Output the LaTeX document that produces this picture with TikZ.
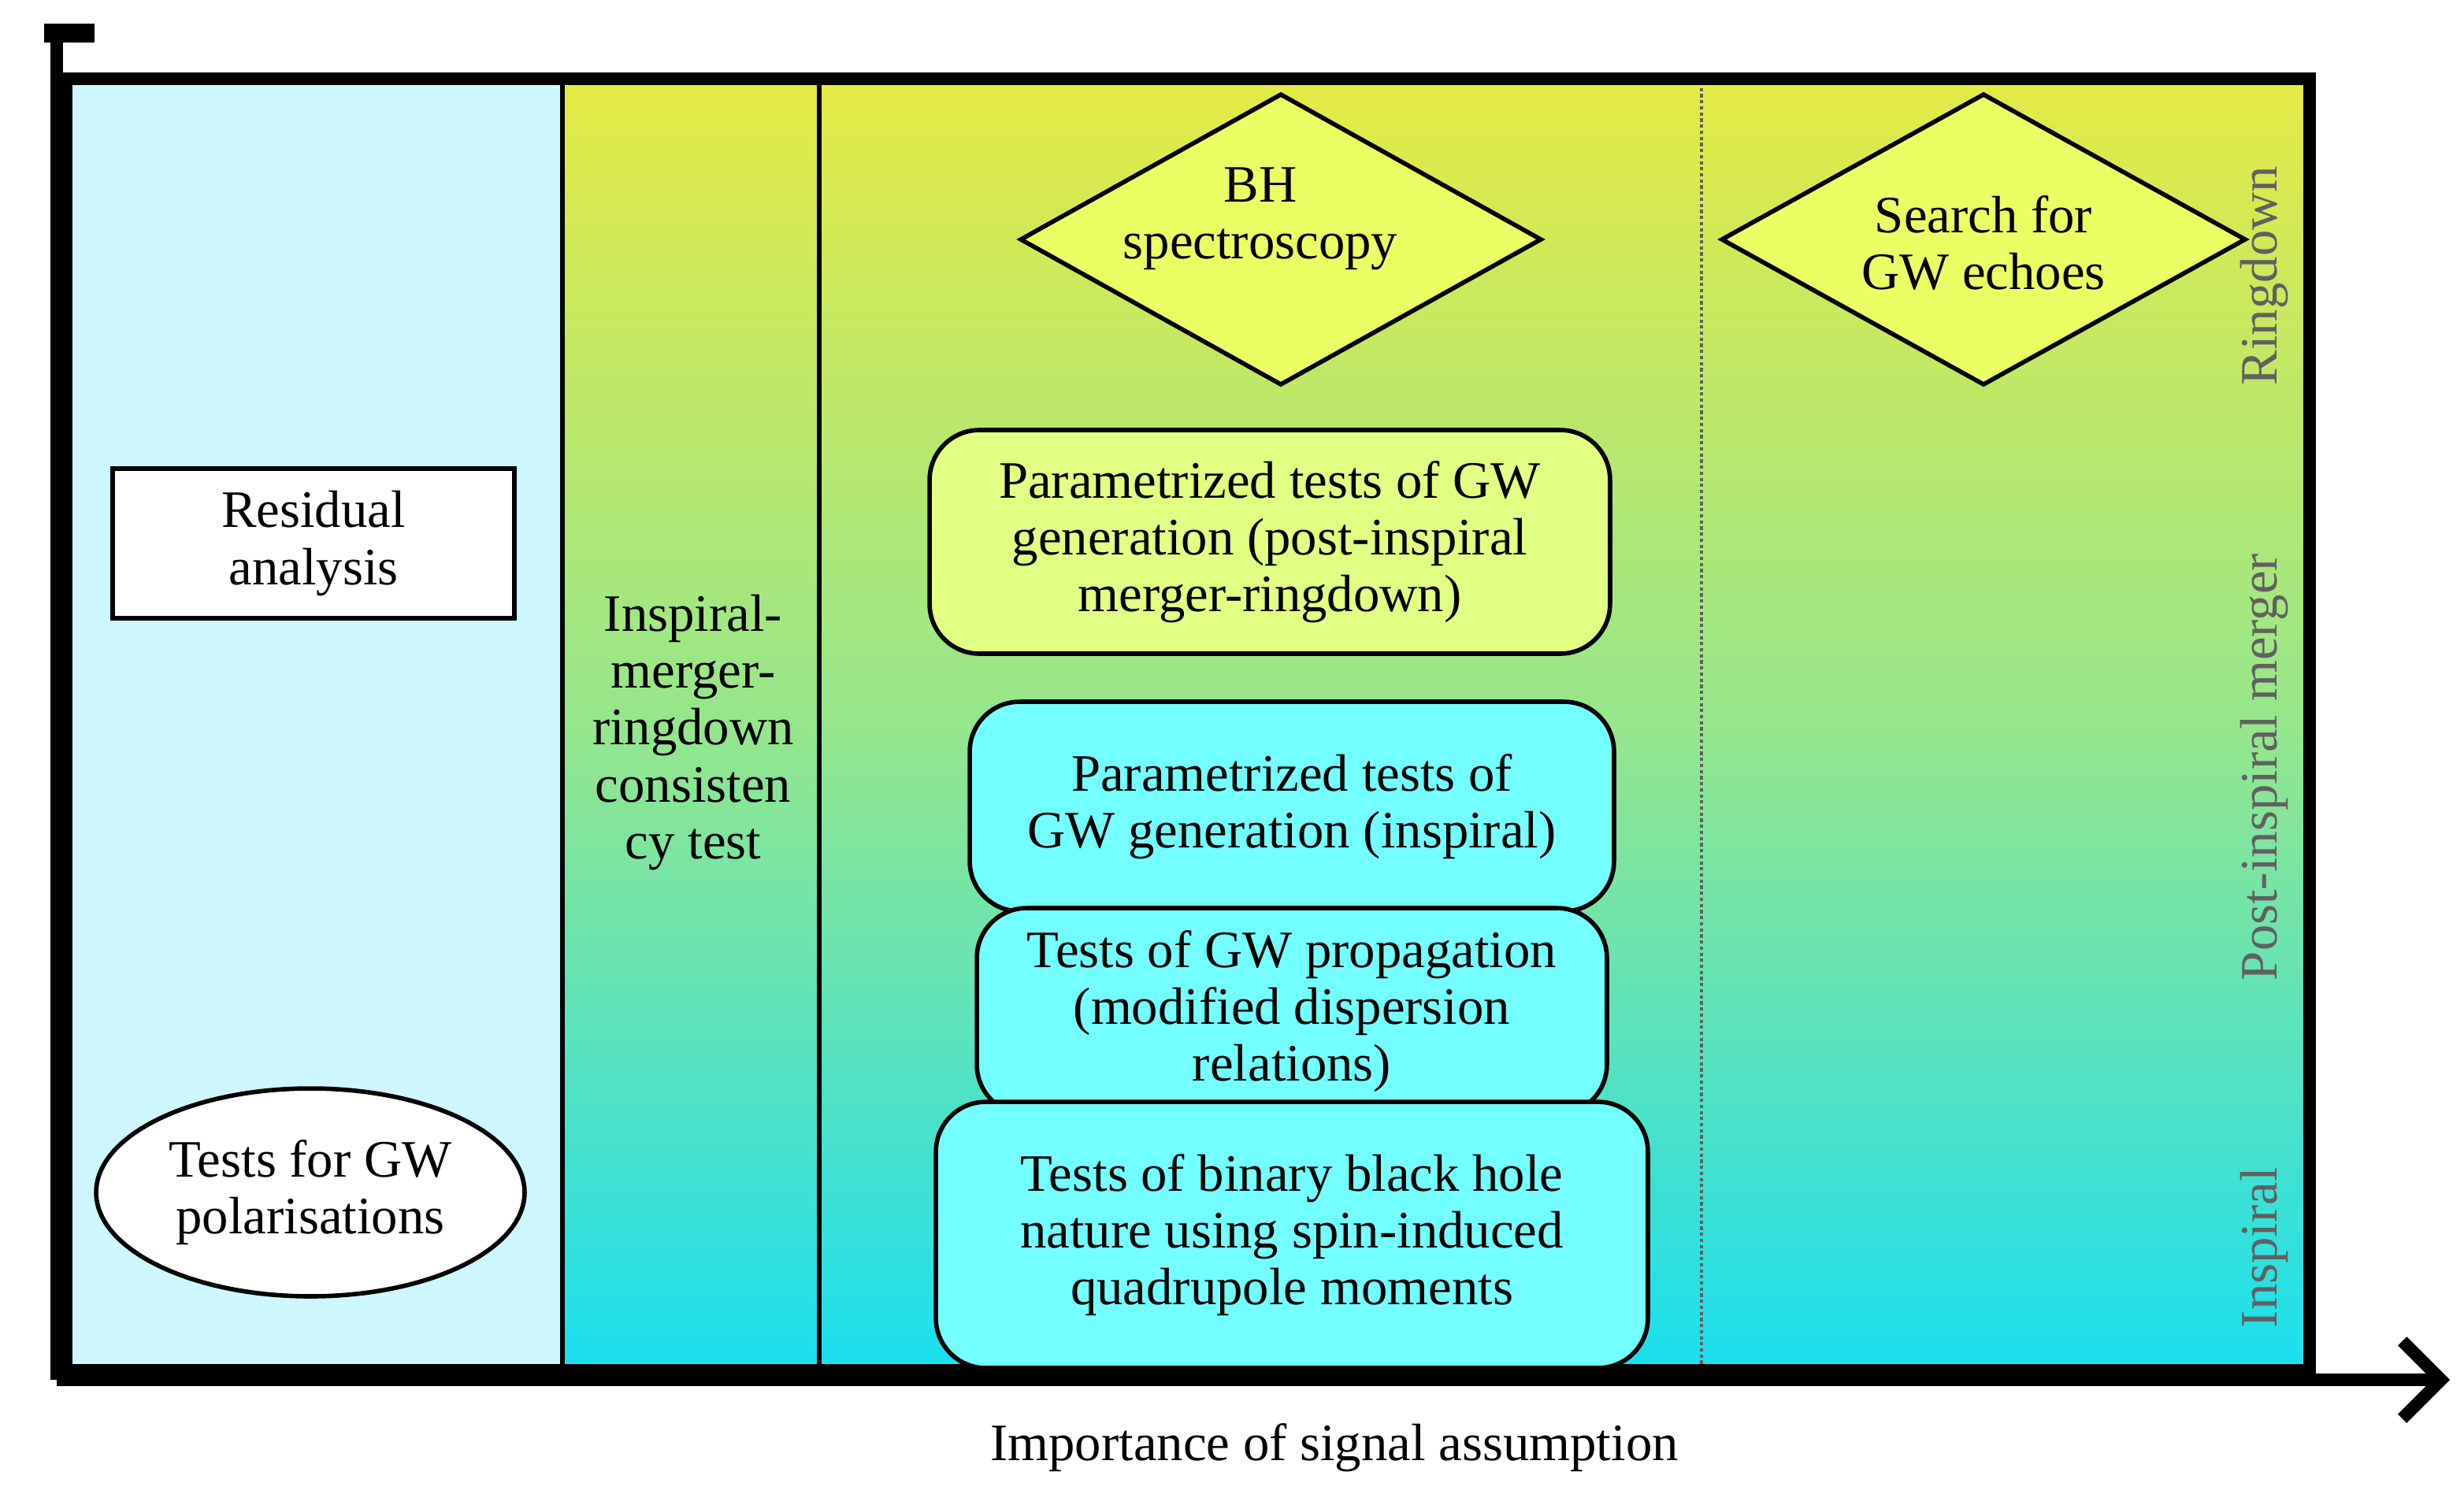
\documentclass[tikz,border=0pt]{standalone}
\usepackage{fontspec}
\setmainfont{Liberation Serif}
\usetikzlibrary{shapes.geometric,arrows.meta}
\definecolor{lcyan}{RGB}{206,247,253}
\definecolor{gtop}{RGB}{229,234,69}
\definecolor{gmid}{RGB}{150,230,140}
\definecolor{gbot}{RGB}{26,223,240}
\definecolor{dyel}{RGB}{235,255,100}
\definecolor{byel}{RGB}{225,255,130}
\definecolor{bcyan}{RGB}{115,255,255}
\definecolor{lab}{RGB}{96,96,96}
\tikzset{
  every node/.style={font=\fontsize{19}{20.5}\selectfont, align=center},
  bx/.style={draw, line width=1.6pt, minimum width=#1, inner sep=0pt},
  rbox/.style={draw, line width=1.6pt, rounded corners=18pt, inner sep=0pt},
  dia/.style={draw, line width=1.6pt, fill=dyel},
  side/.style={text=lab, rotate=90, font=\fontsize{19}{20}\selectfont}
}
\begin{document}
\begin{tikzpicture}[x=0.02cm,y=-0.02cm]
\useasboundingbox (0,0) rectangle (1564,948);
% backgrounds
\fill[lcyan] (42,50) rectangle (357,870);
\shade[top color=gtop, bottom color=gbot, middle color=gmid] (357,50) rectangle (1466,870);
\draw[lab, densely dotted, line width=1.2pt] (1080,52) -- (1080,868);
\draw[line width=1.6pt] (357,52) -- (357,870);
\draw[line width=1.6pt] (520,52) -- (520,870);
\draw[line width=4.5pt] (42,50) rectangle (1466,870);
% axes
\coordinate (o) at (36,876);
\coordinate (top) at (36,21);
\coordinate (xend) at (1555,876);
\draw[line width=4.5pt] (o) -- (top);
\fill (28,15) rectangle (60,27);
\draw[line width=4.5pt, -{Straight Barb[length=14pt, width=28pt, line width=4.5pt]}] (o) -- (xend);
% nodes
\node[bx=5.1cm, minimum height=1.9cm, fill=white] (res) at (199,345) {Residual\\analysis};
\node[draw, ellipse, line width=1.6pt, fill=white, minimum width=5.44cm, minimum height=2.64cm, inner sep=0pt] (pol) at (197,757) {Tests for GW\\polarisations};
\node (imr) at (440,465) {Inspiral-\\merger-\\ringdown\\consisten\\cy test};
\draw[dia] (648,152) -- (813,60) -- (978,152) -- (813,244) -- cycle;
\node (bh) at (800,139) {BH\\spectroscopy};
\draw[dia] (1093,152) -- (1259,60) -- (1425,152) -- (1259,244) -- cycle;
\node (echo) at (1259,154) {Search for\\GW echoes};
\node[rbox, fill=byel, minimum width=8.64cm, minimum height=2.84cm] (ppi) at (806,344) {Parametrized tests of GW\\generation (post-inspiral\\merger-ringdown)};
\node[rbox, fill=bcyan, minimum width=8.18cm, minimum height=2.66cm] (pin) at (820,512) {Parametrized tests of\\GW generation (inspiral)};
\node[rbox, fill=bcyan, minimum width=8.0cm, minimum height=2.62cm] (prop) at (820,642) {Tests of GW propagation\\(modified dispersion\\relations)};
\node[rbox, fill=bcyan, minimum width=9.04cm, minimum height=3.38cm] (bbh) at (820,784) {Tests of binary black hole\\nature using spin-induced\\quadrupole moments};
% side labels
\node[side] (rd) at (1437,175) {Ringdown};
\node[side] (pim) at (1437,487) {Post-inspiral merger};
\node[side] (ins) at (1437,792) {Inspiral};
\node (xl) at (847,919) {Importance of signal assumption};
\end{tikzpicture}
\end{document}
